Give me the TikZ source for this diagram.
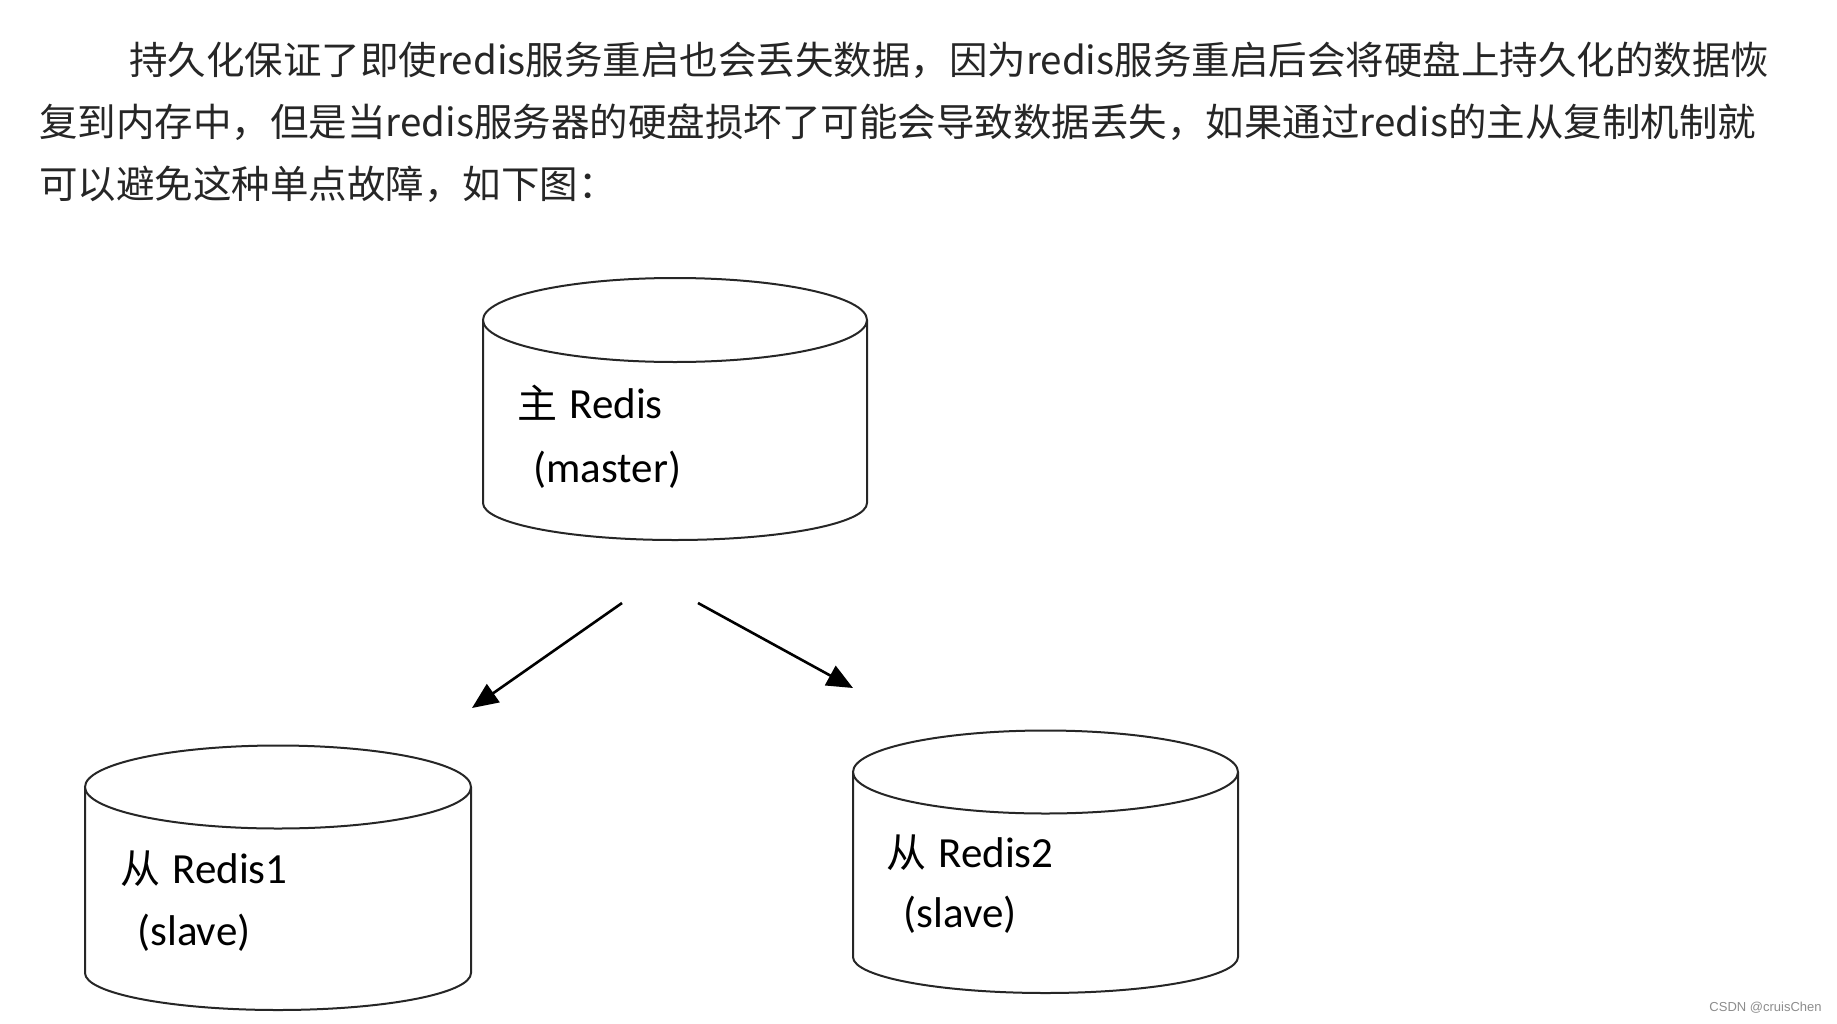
\documentclass[tikz,border=0pt]{standalone}
\usepackage{fontspec}
\setmainfont{Carlito}
\newfontfamily\cjk{Noto Sans CJK SC}
\newfontfamily\wm{Liberation Sans}
\usetikzlibrary{arrows.meta}
\tikzset{
  cyl/.style={draw=black!85, line width=1pt, fill=white},
  para/.style={anchor=base west, inner sep=0pt, font=\cjk\fontsize{19.25pt}{19.25pt}\selectfont, text=black!85},
  lbl/.style={anchor=base west, inner sep=0pt, font=\fontsize{21.5pt}{21.5pt}\selectfont},
  arr/.style={line width=1.3pt, -{Triangle[length=13pt,width=11pt]}}
}
\newcommand{\mycyl}[6]{% cx, ytop, rytop, ybot, rybot, rx
  \draw[cyl] ({#1-#6},#2) -- ({#1-#6},#4) arc[start angle=180, end angle=0, x radius=#6, y radius=#5] -- ({#1+#6},#2);
  \draw[cyl] (#1,#2) ellipse[x radius=#6, y radius=#3];
}
\begin{document}
\begin{tikzpicture}[x=0.5pt,y=-0.5pt]
\useasboundingbox (0,0) rectangle (1837,1023);
% paragraph
\node[para] (l1) at (129,74) {持久化保证了即使redis服务重启也会丢失数据，因为redis服务重启后会将硬盘上持久化的数据恢};
\node[para] (l2) at (39,136) {复到内存中，但是当redis服务器的硬盘损坏了可能会导致数据丢失，如果通过redis的主从复制机制就};
\node[para] (l3) at (39,198) {可以避免这种单点故障，如下图：};
% cylinders
\mycyl{675}{320}{42}{503}{37}{192}
\mycyl{278}{787}{41.5}{973}{37}{193}
\mycyl{1045.5}{772}{41.5}{957}{36}{192.5}
% labels
\node[lbl] (m1) at (517,418) {{\cjk\fontsize{20pt}{20pt}\selectfont 主}\hspace{6pt}Redis};
\node[lbl] (m2) at (533,482) {(master)};
\node[lbl] (s11) at (120,883) {{\cjk\fontsize{20pt}{20pt}\selectfont 从}\hspace{6pt}Redis1};
\node[lbl] (s12) at (137,945) {(slave)};
\node[lbl] (s21) at (886,867) {{\cjk\fontsize{20pt}{20pt}\selectfont 从}\hspace{6pt}Redis2};
\node[lbl] (s22) at (903,927) {(slave)};
% arrows
\coordinate (a1s) at (622,603);
\coordinate (a1e) at (472,708);
\coordinate (a2s) at (698,603);
\coordinate (a2e) at (853,688);
\draw[arr] (a1s) -- (a1e);
\draw[arr] (a2s) -- (a2e);
% watermark
\node[anchor=base east, inner sep=0pt, font=\wm\fontsize{6.5pt}{6.5pt}\selectfont, text=black!45] (wm) at (1822,1011) {CSDN @cruisChen};
\end{tikzpicture}
\end{document}
